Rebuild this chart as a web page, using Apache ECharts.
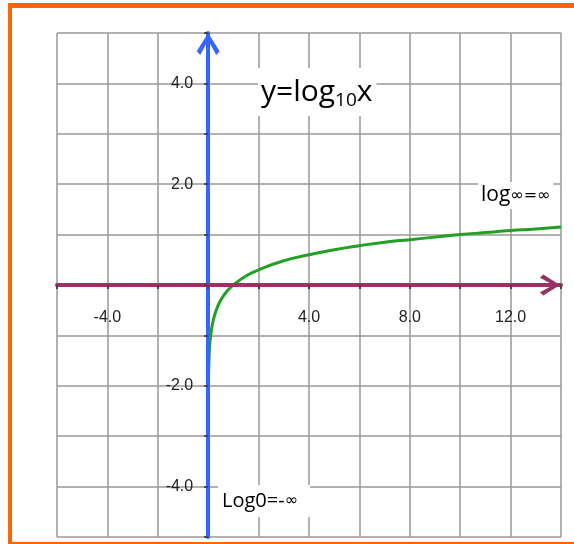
<!DOCTYPE html>
<html>
<head>
<meta charset="utf-8">
<script src="https://cdn.jsdelivr.net/npm/echarts@6/dist/echarts.min.js"></script>
<style>
  html, body { margin: 0; padding: 0; background: #fff; }
  #chart { width: 574px; height: 544px; }
</style>
</head>
<body>
<div id="chart"></div>
<script>
// curve points
const curveX = [0.00001, 0.001, 0.01, 0.03, 0.06, 0.1, 0.2, 0.35, 0.5, 0.75, 1, 1.5, 2, 3, 4, 5, 6, 7, 8, 9, 10, 11, 12, 13, 14];
const curveY = [-5, -3, -2, -1.5, -1.2, -1, -0.7, -0.46, -0.3, -0.12, 0, 0.18, 0.3, 0.48, 0.6, 0.7, 0.78, 0.85, 0.9, 0.95, 1, 1.04, 1.08, 1.11, 1.15];

// which ticks get a label
const xLabelValues = [-4, 4, 8, 12];
const yLabelValues = [-4, -2, 2, 4];

const chart = echarts.init(document.getElementById("chart"));

const chevron = "path://M50,0 L100,80 L85,96 L50,32 L15,96 L0,80 Z";
const labelFont = { fontFamily: "Liberation Sans", fontSize: 16, color: "#222" };

// grid box in px, the axes are pushed onto the zero lines with offset
const gridLeft = 57, gridTop = 33, gridW = 504, gridH = 504;
const xZeroOffset = -(gridH / 2);        // y = 0 is halfway down (-5..5)
const yZeroOffset = -(gridW * 6 / 20);   // x = 0 is 6 units from -6 (-6..14)

const option = {
    animation: false,
    grid: {
        left: gridLeft, top: gridTop, width: gridW, height: gridH,
        containLabel: false, outerBoundsMode: "none"
    },
    xAxis: [
        {
            // grid lines only
            type: "value", min: -6, max: 14, interval: 2, position: "top",
            axisLine: { show: false, onZero: false }, axisTick: { show: false }, axisLabel: { show: false },
            splitLine: { show: true, lineStyle: { color: "#999", width: 1.5 } }
        },
        {
            type: "value", min: -6, max: 14, interval: 2, position: "bottom", z: 5,
            offset: xZeroOffset,
            axisLine: {
                onZero: false,
                symbol: ["none", chevron],
                symbolSize: [21, 23],
                symbolOffset: [0, -11],
                lineStyle: { color: "#993366", width: 4 }
            },
            axisTick: { show: true, length: 4, lineStyle: { color: "#444", width: 2 } },
            axisLabel: {
                ...labelFont, margin: 25,
                formatter: (v) => xLabelValues.includes(v) ? v.toFixed(1) : ""
            },
            splitLine: { show: false }
        }
    ],
    yAxis: [
        {
            type: "value", min: -5, max: 5, interval: 1, position: "right",
            axisLine: { show: false, onZero: false }, axisTick: { show: false }, axisLabel: { show: false },
            splitLine: { show: true, lineStyle: { color: "#999", width: 1.5 } }
        },
        {
            type: "value", min: -5, max: 5, interval: 1, position: "left", z: 5,
            offset: yZeroOffset,
            axisLine: {
                onZero: false,
                symbol: ["none", chevron],
                symbolSize: [26, 22],
                symbolOffset: [0, -11],
                lineStyle: { color: "#3366ff", width: 4 }
            },
            axisTick: { show: true, length: 4, lineStyle: { color: "#444", width: 2 } },
            axisLabel: {
                ...labelFont, margin: 15,
                formatter: (v) => yLabelValues.includes(v) ? v.toFixed(1) : ""
            },
            splitLine: { show: false }
        }
    ],
    series: [
        {
            type: "line",
            xAxisIndex: 0,
            yAxisIndex: 0,
            data: curveX.map((x, i) => [x, curveY[i]]),
            smooth: true,
            showSymbol: false,
            lineStyle: { color: "#22a022", width: 3 },
            z: 2
        }
    ],
    graphic: [
        // orange frame
        { type: "rect", left: 8, top: 3, shape: { width: 4, height: 541 }, style: { fill: "#ff6600" }, z: 10 },
        { type: "rect", left: 8, top: 3, shape: { width: 566, height: 5 }, style: { fill: "#ff6600" }, z: 10 },
        { type: "rect", left: 8, top: 542, shape: { width: 566, height: 2 }, style: { fill: "#ff6600" }, z: 10 },
        {
            type: "text", left: 258, top: 68, z: 10,
            style: {
                text: "{a|y=log}{b|10}{a|x}",
                backgroundColor: "#fff",
                padding: [6, 4, 6, 3],
                rich: {
                    a: { fontFamily: "Open Sans", fontSize: 30, lineHeight: 36, fill: "#000" },
                    b: { fontFamily: "Open Sans", fontSize: 19, lineHeight: 20, verticalAlign: "bottom", fill: "#000" }
                }
            }
        },
        {
            type: "text", left: 478, top: 182, z: 10,
            style: {
                text: "{a|log}{b|∞=∞}",
                backgroundColor: "#fff",
                padding: [1, 3, 1, 3],
                rich: {
                    a: { fontFamily: "Open Sans", fontSize: 21, lineHeight: 25, fill: "#000" },
                    b: { fontFamily: "DejaVu Sans", fontSize: 16, lineHeight: 25, fill: "#000" }
                }
            }
        },
        {
            type: "text", left: 218, top: 485, z: 10,
            style: {
                text: "{a|Log0=-}{b|∞}",
                backgroundColor: "#fff",
                padding: [4, 12, 4, 4],
                rich: {
                    a: { fontFamily: "Open Sans", fontSize: 20, lineHeight: 24, fill: "#000" },
                    b: { fontFamily: "DejaVu Sans", fontSize: 16, lineHeight: 24, fill: "#000" }
                }
            }
        }
    ]
};

chart.setOption(option);
</script>
</body>
</html>
